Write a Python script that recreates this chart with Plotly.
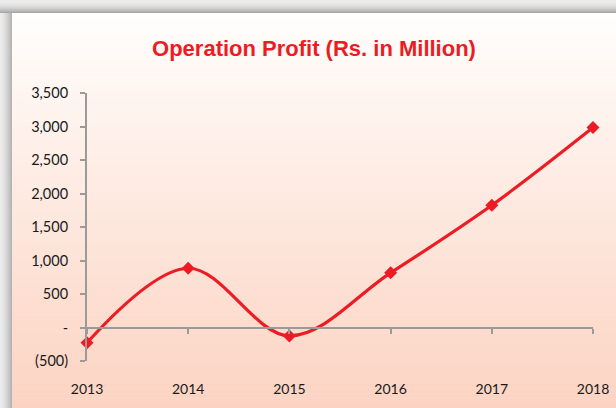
import plotly.graph_objects as go

years = [2013, 2014, 2015, 2016, 2017, 2018]
profit = [-228, 884, -125, 816, 1825, 2985]
y_tickvals = [-500, 0, 500, 1000, 1500, 2000, 2500, 3000, 3500]
y_ticktext = ["(500)", "-", "500", "1,000", "1,500", "2,000", "2,500", "3,000", "3,500"]
x_ticktext = [str(y) for y in years]

W, H = 616, 408
ML, MR, MT, MB = 87, 23, 93, 47
YMIN, YMAX = -500, 3500
RED = "#ED1C24"
AX = "#9a9a9a"
FONT = "Lato, 'DejaVu Sans', sans-serif"

PW, PH = W - ML - MR, H - MT - MB


def px_x(x):
    return (x - ML) / PW


def px_y(y):
    return 1 - (y - MT) / PH


shapes = []
# card gradient background (white to peach)
card_top, card_left = 13, 12
n = 80
top_c = (255, 254, 252)
bot_c = (252, 211, 194)
for i in range(n):
    t = i / (n - 1)
    c = tuple(round(top_c[k] + (bot_c[k] - top_c[k]) * t) for k in range(3))
    y0 = card_top + (H - card_top) * i / n
    y1 = card_top + (H - card_top) * (i + 1) / n + 0.6
    shapes.append(dict(type="rect", xref="paper", yref="paper",
                       x0=px_x(card_left), x1=px_x(W),
                       y0=px_y(y1), y1=px_y(y0),
                       fillcolor="rgb(%d,%d,%d)" % c, line_width=0, layer="below"))
# top shadow
for i in range(card_top):
    g = round(236 - (236 - 168) * (i / (card_top - 1)) ** 2)
    shapes.append(dict(type="rect", xref="paper", yref="paper",
                       x0=px_x(0), x1=px_x(W),
                       y0=px_y(i + 1), y1=px_y(i),
                       fillcolor="rgb(%d,%d,%d)" % (g, g, g), line_width=0, layer="below"))
# left shadow
for i in range(card_left):
    g = round(236 - (236 - 180) * (i / (card_left - 1)) ** 1.5)
    shapes.append(dict(type="rect", xref="paper", yref="paper",
                       x0=px_x(i), x1=px_x(i + 1),
                       y0=px_y(H), y1=px_y(card_top),
                       fillcolor="rgb(%d,%d,%d)" % (g, g, g), line_width=0, layer="below"))

fig = go.Figure()
fig.add_trace(go.Scatter(
    x=years, y=profit, mode="lines+markers",
    line=dict(color=RED, width=3.2, shape="spline", smoothing=1),
    marker=dict(symbol="diamond", size=10, color=RED),
    cliponaxis=False, showlegend=False, hoverinfo="x+y"))
# invisible trace to anchor the zero-line axis
fig.add_trace(go.Scatter(x=years, y=profit, xaxis="x2", mode="markers",
                         marker=dict(opacity=0), showlegend=False, hoverinfo="skip"))

zero_pos = (0 - YMIN) / (YMAX - YMIN)

fig.update_layout(
    width=W, height=H, autosize=False,
    margin=dict(l=ML, r=MR, t=MT, b=MB, autoexpand=False),
    paper_bgcolor="white", plot_bgcolor="rgba(0,0,0,0)",
    shapes=shapes,
    title=dict(text="<b>Operation Profit (Rs. in Million)</b>",
               font=dict(family="'Liberation Sans', Arial, sans-serif", size=22, color=RED),
               x=314 / W, xanchor="center", y=1 - 48 / H, yanchor="middle"),
    xaxis=dict(range=[years[0], years[-1]], tickvals=years, ticktext=x_ticktext,
               automargin=False,
               showline=False, showgrid=False, zeroline=False,
               ticks="outside", ticklen=15, tickcolor="rgba(0,0,0,0)",
               tickfont=dict(family=FONT, size=14, color="#1a1a1a")),
    xaxis2=dict(overlaying="x", anchor="free", position=zero_pos, side="bottom",
                automargin=False,
                range=[years[0], years[-1]], tickvals=years, showticklabels=False,
                showline=True, linecolor=AX, linewidth=2, ticks="outside", ticklen=5,
                tickcolor=AX, tickwidth=2, showgrid=False, zeroline=False),
    yaxis=dict(range=[YMIN, YMAX], tickvals=y_tickvals, ticktext=y_ticktext,
               automargin=False,
               showline=True, linecolor=AX, linewidth=2, ticks="outside", ticklen=5,
               tickcolor=AX, tickwidth=2, showgrid=False, zeroline=False,
               ticklabelstandoff=9,
               tickfont=dict(family=FONT, size=14.5, color="#1a1a1a")),
)

fig.write_html(
    "out.html",
    config={"displayModeBar": False},
    post_script="document.body.style.margin='0';document.body.style.overflow='hidden';",
)
